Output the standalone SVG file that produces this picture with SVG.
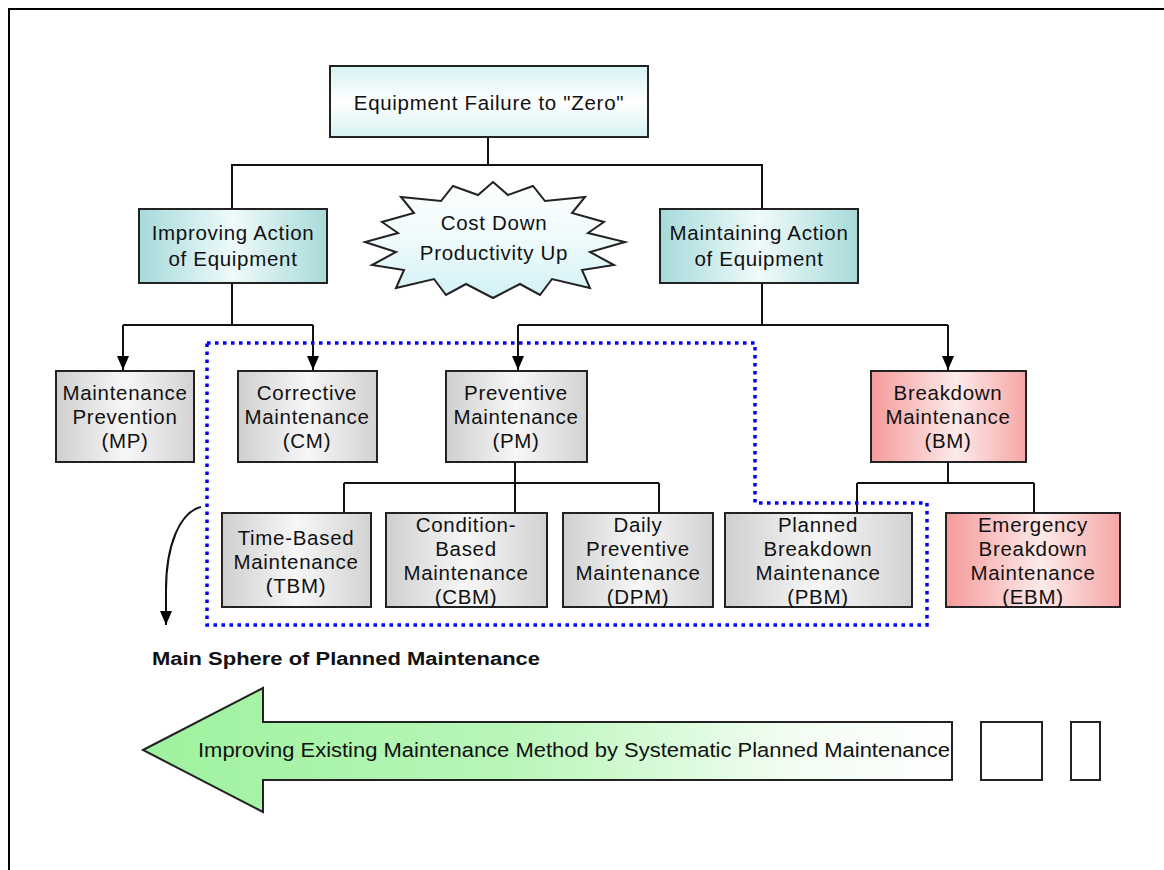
<svg xmlns="http://www.w3.org/2000/svg" width="1164" height="870" viewBox="0 0 1164 870">
<style>
text{font-family:"Liberation Sans",Arial,sans-serif;font-size:20.5px;fill:#111;text-anchor:middle;letter-spacing:0.7px}
.box{stroke:#222;stroke-width:2}
.gray{fill:url(#gGray)}
.cyan{fill:url(#gCyan)}
.red{fill:url(#gRed)}
.ln{fill:none;stroke:#111;stroke-width:2}
</style>
<defs>
<linearGradient id="gGray" x1="0" y1="0" x2="1" y2="0">
<stop offset="0" stop-color="#cfcfcf"/><stop offset="0.5" stop-color="#f7f7f7"/><stop offset="1" stop-color="#d2d2d2"/>
</linearGradient>
<linearGradient id="gCyan" x1="0" y1="0" x2="1" y2="0">
<stop offset="0" stop-color="#a6dada"/><stop offset="0.5" stop-color="#effafa"/><stop offset="1" stop-color="#a8dada"/>
</linearGradient>
<linearGradient id="gTop" x1="0" y1="0" x2="0" y2="1">
<stop offset="0" stop-color="#d6f1f1"/><stop offset="0.5" stop-color="#ffffff"/><stop offset="1" stop-color="#d6f1f1"/>
</linearGradient>
<linearGradient id="gStar" x1="0" y1="0" x2="0" y2="1">
<stop offset="0" stop-color="#ffffff"/><stop offset="0.5" stop-color="#eefafb"/><stop offset="1" stop-color="#d2f2f6"/>
</linearGradient>
<linearGradient id="gRed" x1="0" y1="0" x2="1" y2="0">
<stop offset="0" stop-color="#f59a9a"/><stop offset="0.55" stop-color="#fdeaea"/><stop offset="1" stop-color="#f6a6a6"/>
</linearGradient>
<linearGradient id="gGreen" x1="0" y1="0" x2="1" y2="0">
<stop offset="0" stop-color="#9ef29e"/><stop offset="0.45" stop-color="#b8f6b8"/><stop offset="0.8" stop-color="#f2fdf2"/><stop offset="1" stop-color="#ffffff"/>
</linearGradient>
<marker id="arr" viewBox="0 0 14 12" refX="14" refY="6" markerWidth="14" markerHeight="12" markerUnits="userSpaceOnUse" orient="auto">
<path d="M0,0 L14,6 L0,12 Z" fill="#000"/>
</marker>
</defs>
<rect x="0" y="0" width="1164" height="870" fill="#fff"/>
<rect x="9" y="9" width="1170" height="880" fill="none" stroke="#000" stroke-width="2"/>

<g id="connectors">
<path class="ln" d="M488,137 V165 M232,209 V165 H762 V209"/>
<path class="ln" d="M232,283 V325 M123,325 H313"/>
<path class="ln" d="M123,325 V370" marker-end="url(#arr)"/>
<path class="ln" d="M313,325 V370" marker-end="url(#arr)"/>
<path class="ln" d="M762,283 V325 M518,325 H948"/>
<path class="ln" d="M518,325 V370" marker-end="url(#arr)"/>
<path class="ln" d="M948,325 V370" marker-end="url(#arr)"/>
<path class="ln" d="M515,462 V483 M344,483 H659 M344,483 V513 M515,483 V513 M659,483 V513"/>
<path class="ln" d="M948,462 V483 M857,483 H1034 M857,483 V513 M1034,483 V513"/>
<path class="ln" stroke-width="1.6" d="M201,507 C180,512 166,545 166,590 V625" marker-end="url(#arr)"/>
</g>

<g id="sphere">
<path d="M207,343 H755 V503 H927 V625 H207 Z" fill="none" stroke="#0000ff" stroke-width="3.5" stroke-dasharray="3.5 4.5"/>
<text x="346" y="665" style="font-weight:bold;font-size:18px;letter-spacing:0" textLength="388" lengthAdjust="spacingAndGlyphs">Main Sphere of Planned Maintenance</text>
</g>

<g id="top">
<rect class="box" x="330" y="66" width="318" height="71" fill="url(#gTop)"/>
<text x="489" y="110">Equipment Failure to "Zero"</text>
</g>

<g id="star">
<polygon class="box" fill="url(#gStar)" stroke-width="1.6" points="493,182 508,195 533,186 545,201 585,197 572,213 604,222 588,233 625,242 590,252 614,265 582,270 590,288 552,279 540,295 520,284 493,298 466,284 446,295 434,279 396,288 404,270 372,265 396,252 365,242 398,233 382,222 414,213 401,197 441,201 453,186 478,195"/>
<text x="494" y="230">Cost Down</text>
<text x="494" y="260">Productivity Up</text>
</g>

<g id="improving">
<rect class="box cyan" x="139" y="209" width="188" height="74"/>
<text x="233" y="240">Improving Action</text>
<text x="233" y="266">of Equipment</text>
</g>

<g id="maintaining">
<rect class="box cyan" x="660" y="209" width="198" height="74"/>
<text x="759" y="240">Maintaining Action</text>
<text x="759" y="266">of Equipment</text>
</g>

<g id="mp">
<rect class="box gray" x="56" y="371" width="138" height="91"/>
<text x="125" y="400">Maintenance</text>
<text x="125" y="424">Prevention</text>
<text x="125" y="448">(MP)</text>
</g>

<g id="cm">
<rect class="box gray" x="238" y="371" width="139" height="91"/>
<text x="307" y="400">Corrective</text>
<text x="307" y="424">Maintenance</text>
<text x="307" y="448">(CM)</text>
</g>

<g id="pm">
<rect class="box gray" x="446" y="371" width="141" height="91"/>
<text x="516" y="400">Preventive</text>
<text x="516" y="424">Maintenance</text>
<text x="516" y="448">(PM)</text>
</g>

<g id="bm">
<rect class="box red" x="871" y="371" width="155" height="91"/>
<text x="948" y="400">Breakdown</text>
<text x="948" y="424">Maintenance</text>
<text x="948" y="448">(BM)</text>
</g>

<g id="tbm">
<rect class="box gray" x="222" y="513" width="149" height="94"/>
<text x="296" y="545">Time-Based</text>
<text x="296" y="569">Maintenance</text>
<text x="296" y="593">(TBM)</text>
</g>

<g id="cbm">
<rect class="box gray" x="386" y="513" width="161" height="94"/>
<text x="466" y="532">Condition-</text>
<text x="466" y="556">Based</text>
<text x="466" y="580">Maintenance</text>
<text x="466" y="604">(CBM)</text>
</g>

<g id="dpm">
<rect class="box gray" x="563" y="513" width="150" height="94"/>
<text x="638" y="532">Daily</text>
<text x="638" y="556">Preventive</text>
<text x="638" y="580">Maintenance</text>
<text x="638" y="604">(DPM)</text>
</g>

<g id="pbm">
<rect class="box gray" x="725" y="513" width="187" height="94"/>
<text x="818" y="532">Planned</text>
<text x="818" y="556">Breakdown</text>
<text x="818" y="580">Maintenance</text>
<text x="818" y="604">(PBM)</text>
</g>

<g id="ebm">
<rect class="box red" x="946" y="513" width="174" height="94"/>
<text x="1033" y="532">Emergency</text>
<text x="1033" y="556">Breakdown</text>
<text x="1033" y="580">Maintenance</text>
<text x="1033" y="604">(EBM)</text>
</g>

<g id="bigarrow">
<polygon class="box" fill="url(#gGreen)" points="143,750 263,688 263,722 952,722 952,780 263,780 263,812"/>
<text x="574" y="757" style="letter-spacing:0" textLength="752" lengthAdjust="spacingAndGlyphs">Improving Existing Maintenance Method by Systematic Planned Maintenance</text>
</g>

<g id="box1"><rect class="box" x="981" y="722" width="61" height="58" fill="#fff"/></g>
<g id="box2"><rect class="box" x="1071" y="722" width="29" height="58" fill="#fff"/></g>
</svg>
